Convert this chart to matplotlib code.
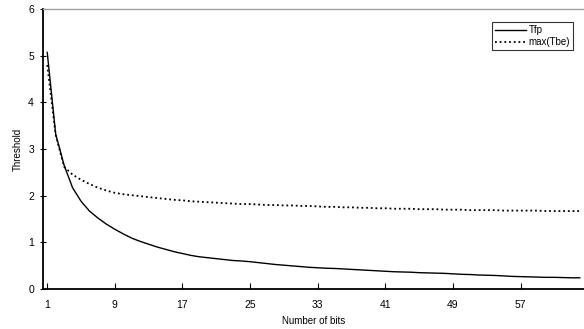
import matplotlib
matplotlib.use("Agg")
import matplotlib.pyplot as plt
import numpy as np

plt.rcParams['font.family'] = ['Liberation Sans', 'DejaVu Sans']

# number of bits 1..64
bits = list(range(1, 65))

tfp = [5.07, 3.32, 2.65, 2.17, 1.88, 1.67, 1.52, 1.39, 1.28, 1.18,
       1.09, 1.02, 0.96, 0.90, 0.85, 0.80, 0.76, 0.72, 0.69, 0.67,
       0.65, 0.63, 0.61, 0.60, 0.585, 0.565, 0.545, 0.525, 0.51, 0.495,
       0.48, 0.465, 0.455, 0.445, 0.44, 0.43, 0.42, 0.41, 0.40, 0.39,
       0.38, 0.37, 0.365, 0.36, 0.35, 0.345, 0.34, 0.335, 0.325, 0.315,
       0.31, 0.30, 0.295, 0.29, 0.28, 0.27, 0.265, 0.26, 0.255, 0.25,
       0.25, 0.245, 0.24, 0.24]

max_tbe = [4.80, 3.30, 2.62, 2.45, 2.34, 2.25, 2.17, 2.11, 2.06, 2.03,
           2.01, 1.99, 1.97, 1.95, 1.93, 1.91, 1.90, 1.88, 1.87, 1.86,
           1.85, 1.84, 1.83, 1.82, 1.82, 1.81, 1.80, 1.80, 1.79, 1.79,
           1.78, 1.78, 1.77, 1.76, 1.76, 1.75, 1.75, 1.74, 1.74, 1.73,
           1.73, 1.72, 1.72, 1.72, 1.71, 1.71, 1.71, 1.70, 1.70, 1.70,
           1.69, 1.69, 1.69, 1.69, 1.68, 1.68, 1.68, 1.68, 1.68, 1.67,
           1.67, 1.67, 1.67, 1.67]

xticks = [1, 9, 17, 25, 33, 41, 49, 57]
yticks = [0, 1, 2, 3, 4, 5, 6]

fig = plt.figure(figsize=(5.84, 3.29), dpi=100)
ax = fig.add_axes([43/584, 1-289/329, 1-43/584, 280/329])

ax.plot(bits, tfp, '-', color='black', lw=1.0, label='Tfp')
ax.plot(bits, max_tbe, color='black', lw=1.3, linestyle=(0, (1, 1.6)), label='max(Tbe)')

ax.set_xlim(0.5, 64.5)
ax.set_ylim(0, 6)
ax.set_xticks(xticks)
ax.set_yticks(yticks)
ax.tick_params(axis='x', direction='in', length=4, width=0.8, labelsize=7.5, pad=8)
ax.tick_params(axis='y', direction='inout', length=5, width=0.8, labelsize=7.5, pad=4)

ax.spines['left'].set_linewidth(1.3)
ax.spines['bottom'].set_linewidth(1.3)
ax.spines['top'].set_color('#a0a0a0')
ax.spines['top'].set_linewidth(1.0)
ax.spines['right'].set_visible(False)

ax.set_xlabel('Number of bits', fontsize=7, labelpad=4)
ax.set_ylabel('Threshold', fontsize=7, labelpad=4)

leg = ax.legend(loc='upper right', bbox_to_anchor=(573/584, 1-22/329),
                bbox_transform=fig.transFigure, fontsize=7, frameon=True,
                fancybox=False, handlelength=3.2, handletextpad=0.3,
                borderpad=0.3, labelspacing=0.25, borderaxespad=0)
leg.get_frame().set_edgecolor('black')
leg.get_frame().set_linewidth(0.8)

fig.savefig('out.png', dpi=100)
